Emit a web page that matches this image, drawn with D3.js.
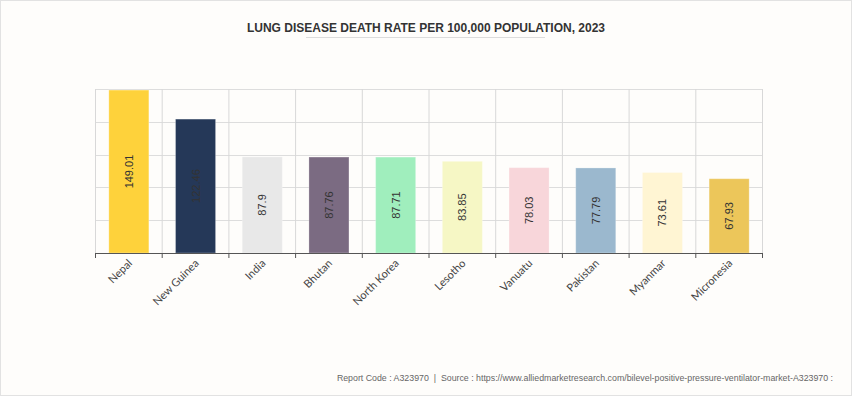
<!DOCTYPE html>
<html>
<head>
<meta charset="utf-8">
<script src="https://cdn.jsdelivr.net/npm/d3@7"></script>
<style>
  html, body { margin: 0; padding: 0; background: #fefdfb; }
  svg { display: block; }
</style>
</head>
<body>
<svg id="chart" width="852" height="396"></svg>
<script>
const categories = ["Nepal", "New Guinea", "India", "Bhutan", "North Korea", "Lesotho", "Vanuatu", "Pakistan", "Myanmar", "Micronesia"];
const values = [149.01, 122.46, 87.9, 87.76, 87.71, 83.85, 78.03, 77.79, 73.61, 67.93];
const labels = ["149.01", "122.46", "87.9", "87.76", "87.71", "83.85", "78.03", "77.79", "73.61", "67.93"];
const colors = ["#fed23b", "#253858", "#e8e8e8", "#7b6b82", "#a0eebd", "#f6f7c5", "#f8d6da", "#9bb8ce", "#fff5d3", "#ecc65a"];
const yTicks = [0, 30, 60, 90, 120, 150];
const title = "LUNG DISEASE DEATH RATE PER 100,000 POPULATION, 2023";
const footer = "Report Code : A323970  |  Source : https://www.alliedmarketresearch.com/bilevel-positive-pressure-ventilator-market-A323970 :";

const W = 852, H = 396;
const m = { left: 95.5, right: 89.5, top: 89, bottom: 143 };
const svg = d3.select("#chart");

svg.append("rect").attr("x", 0.5).attr("y", 0.5).attr("width", W - 1).attr("height", H - 1)
  .attr("fill", "#fefdfb").attr("stroke", "#e2e2e2");

const x = d3.scaleBand().domain(categories).range([m.left, W - m.right]).paddingInner(0.4).paddingOuter(0.2);
const xb = d3.scaleBand().domain(categories).range([m.left, W - m.right]);
const y = d3.scaleLinear().domain([0, 150]).range([H - m.bottom, m.top]);

// title
svg.append("text").attr("x", 426).attr("y", 32).attr("text-anchor", "middle")
  .attr("font-family", "Liberation Sans, Arial, sans-serif").attr("font-weight", "bold")
  .attr("font-size", 12).attr("fill", "#333").text(title);
svg.append("line").attr("x1", 306).attr("x2", 545).attr("y1", 37.5).attr("y2", 37.5)
  .attr("stroke", "#dcdcdc");

const g = svg.append("g");
// horizontal grid
g.selectAll(".hg").data(yTicks).enter().append("line")
  .attr("x1", m.left).attr("x2", W - m.right)
  .attr("y1", d => Math.round(y(d)) + 0.5).attr("y2", d => Math.round(y(d)) + 0.5)
  .attr("stroke", "#dddddd");
// vertical grid at band boundaries
const bounds = categories.map(c => xb(c)).concat([W - m.right]);
g.selectAll(".vg").data(bounds).enter().append("line")
  .attr("x1", d => d).attr("x2", d => d)
  .attr("y1", m.top).attr("y2", H - m.bottom)
  .attr("stroke", "#d8d8d8");

// bars
g.selectAll(".bar").data(values).enter().append("rect")
  .attr("x", (d, i) => x(categories[i]))
  .attr("width", x.bandwidth())
  .attr("y", d => y(d))
  .attr("height", d => y(0) - y(d))
  .attr("fill", (d, i) => colors[i])
  .attr("stroke", "rgba(255,255,255,0.25)").attr("stroke-width", 1);

// value labels
g.selectAll(".vl").data(values).enter().append("text")
  .attr("transform", (d, i) => `translate(${x(categories[i]) + x.bandwidth() / 2 + 4},${(y(d) + y(0)) / 2}) rotate(-90)`)
  .attr("text-anchor", "middle")
  .attr("font-family", "Liberation Sans, Arial, sans-serif").attr("font-size", 11)
  .attr("fill", "#333").text((d, i) => labels[i]);

// x axis
const axisY = H - m.bottom;
svg.append("line").attr("x1", m.left).attr("x2", W - m.right).attr("y1", axisY + 0.5).attr("y2", axisY + 0.5)
  .attr("stroke", "#555");
svg.selectAll(".tk").data(bounds).enter().append("line")
  .attr("x1", d => d).attr("x2", d => d).attr("y1", axisY).attr("y2", axisY + 5)
  .attr("stroke", "#555");
svg.selectAll(".xl").data(categories).enter().append("text")
  .attr("transform", c => `translate(${x(c) + x.bandwidth() / 2 + 4},${axisY + 11}) rotate(-45)`)
  .attr("text-anchor", "end")
  .attr("font-family", "Lato, Open Sans, sans-serif").attr("font-size", 11)
  .attr("fill", "#444").text(c => c);

// footer
svg.append("text").attr("x", 833).attr("y", 381).attr("text-anchor", "end")
  .attr("font-family", "Liberation Sans, Arial, sans-serif").attr("font-size", 8.8)
  .attr("fill", "#666").attr("xml:space", "preserve").text(footer);
</script>
</body>
</html>
